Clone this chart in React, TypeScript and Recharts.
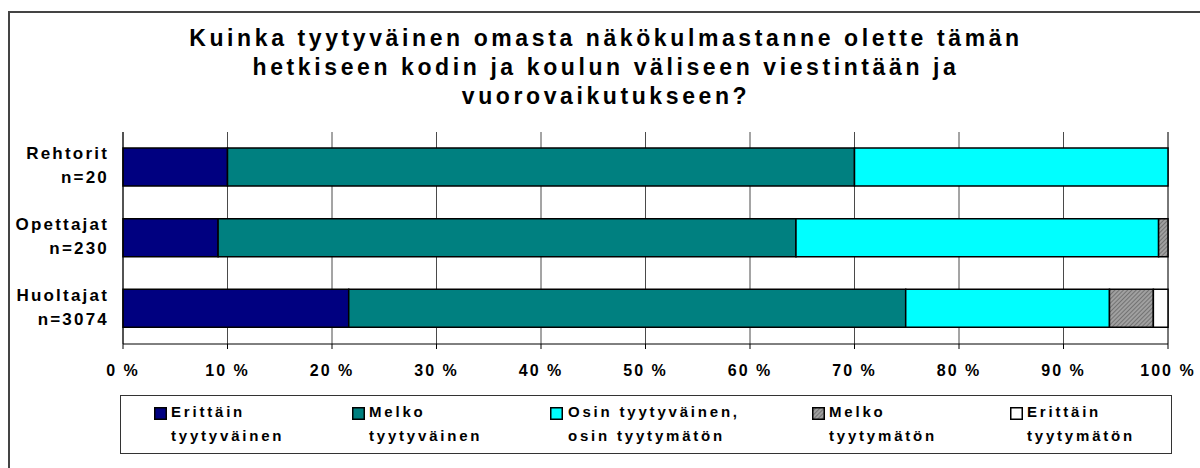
import React from "react"
import { BarChart, Bar, XAxis, YAxis, CartesianGrid } from "recharts"

// Kategoriat ja vastaajamäärät
const CATEGORIES = ["Rehtorit", "Opettajat", "Huoltajat"]
const GROUP_SIZES = ["n=20", "n=230", "n=3074"]

// Osuudet prosentteina (luettu kuvasta)
const ERITTAIN_TYYTYVAINEN = [10, 9.1, 21.6]
const MELKO_TYYTYVAINEN = [60, 55.3, 53.3]
const OSIN_OSIN = [30, 34.7, 19.5]
const MELKO_TYYTYMATON = [0, 0.9, 4.2]
const ERITTAIN_TYYTYMATON = [0, 0, 1.4]

const X_TICKS = [0, 10, 20, 30, 40, 50, 60, 70, 80, 90, 100]
const BAND_EDGES = [0, 1, 2, 3]

const TITLE_LINES = [
  "Kuinka tyytyväinen omasta näkökulmastanne olette tämän",
  "hetkiseen kodin ja koulun väliseen viestintään ja",
  "vuorovaikutukseen?",
]

const SERIES = [
  { key: "et", lines: ["Erittäin", "tyytyväinen"], fill: "#000080", values: ERITTAIN_TYYTYVAINEN },
  { key: "mt", lines: ["Melko", "tyytyväinen"], fill: "#008080", values: MELKO_TYYTYVAINEN },
  { key: "oo", lines: ["Osin tyytyväinen,", "osin tyytymätön"], fill: "#00FFFF", values: OSIN_OSIN },
  { key: "mm", lines: ["Melko", "tyytymätön"], fill: "url(#hatch)", values: MELKO_TYYTYMATON },
  { key: "em", lines: ["Erittäin", "tyytymätön"], fill: "#FFFFFF", values: ERITTAIN_TYYTYMATON },
]

// legendan kohtien vaakasijainnit (ruutu, teksti)
const LEGEND_POS = [
  { box: 33, text: 50 },
  { box: 231, text: 248 },
  { box: 429, text: 447 },
  { box: 691, text: 708 },
  { box: 889, text: 906 },
]

const data = CATEGORIES.map((name, i) => {
  const row: Record<string, any> = { name, n: GROUP_SIZES[i] }
  SERIES.forEach((s) => {
    row[s.key] = s.values[i]
  })
  return row
})

const FONT = "'Liberation Sans', Arial, sans-serif"

const CategoryTick = (props: any) => {
  const { x, y, payload } = props
  const i = CATEGORIES.indexOf(payload.value)
  return (
    <text
      x={x}
      y={y}
      textAnchor="end"
      fontSize={17}
      fontWeight="bold"
      fill="#000"
      style={{ letterSpacing: 2.2 }}
    >
      <tspan x={x} dy={-8}>{payload.value}</tspan>
      <tspan x={x} dy={24}>{GROUP_SIZES[i]}</tspan>
    </text>
  )
}

export default function App() {
  return (
    <div
      style={{
        position: "absolute",
        left: 0,
        top: 0,
        width: 1200,
        height: 468,
        overflow: "hidden",
        background: "#fff",
        fontFamily: FONT,
      }}
    >
      {/* kehys */}
      <div
        style={{
          position: "absolute",
          left: 8,
          top: 11,
          width: 1200,
          height: 470,
          borderLeft: "2px solid #444",
          borderTop: "2px solid #444",
        }}
      />

      <BarChart
        width={1200}
        height={468}
        data={data}
        layout="vertical"
        margin={{ top: 132, right: 32, bottom: 84, left: 0 }}
        barSize={38}
        style={{ position: "absolute", left: 0, top: 0 }}
      >
        <defs>
          <pattern id="hatch" patternUnits="userSpaceOnUse" width="3" height="3" patternTransform="rotate(45)">
            <rect width="3" height="3" fill="#a0a0a0" />
            <line x1="0" y1="0" x2="0" y2="3" stroke="#555" strokeWidth="1.2" />
          </pattern>
        </defs>
        <CartesianGrid horizontal={false} stroke="#4a4a4a" strokeWidth={1} />
        <YAxis
          yAxisId="edges"
          type="number"
          domain={[0, 3]}
          ticks={BAND_EDGES}
          width={0}
          tickSize={5}
          tickLine={{ stroke: "#000" }}
          axisLine={{ stroke: "#000" }}
          tick={() => <g />}
        />
        <YAxis
          type="category"
          dataKey="name"
          width={123}
          tickLine={false}
          axisLine={{ stroke: "#000" }}
          tickMargin={8}
          interval={0}
          tick={<CategoryTick />}
        />
        <XAxis
          type="number"
          domain={[0, 100]}
          ticks={X_TICKS}
          interval={0}
          height={40}
          tickSize={5}
          tickMargin={16}
          tickFormatter={(v: number) => `${v} %`}
          axisLine={{ stroke: "#000" }}
          tickLine={{ stroke: "#000" }}
          tick={{ fontSize: 16, fontWeight: "bold", fill: "#000", style: { letterSpacing: 2 } } as any}
        />
        {SERIES.map((s) => (
          <Bar
            key={s.key}
            dataKey={s.key}
            stackId="a"
            fill={s.fill}
            stroke="#000"
            strokeWidth={1.5}
            isAnimationActive={false}
          />
        ))}
      </BarChart>

      {/* otsikko */}
      <div
        style={{
          position: "absolute",
          left: 0,
          top: 24,
          width: 1212,
          textAlign: "center",
          fontSize: 23,
          fontWeight: "bold",
          letterSpacing: 3.6,
          lineHeight: "29px",
          color: "#000",
        }}
      >
        {TITLE_LINES.map((l) => (
          <div key={l}>{l}</div>
        ))}
      </div>

      {/* selite */}
      <div
        style={{
          position: "absolute",
          left: 120,
          top: 395,
          width: 1052,
          height: 59,
          boxSizing: "border-box",
          border: "1px solid #333",
          background: "#fff",
        }}
      >
        {SERIES.map((s, i) => (
          <React.Fragment key={s.key}>
            <svg
              width={13}
              height={13}
              style={{ position: "absolute", left: LEGEND_POS[i].box, top: 11 }}
            >
              <rect x={0.75} y={0.75} width={11.5} height={11.5} fill={s.fill} stroke="#000" strokeWidth={1.5} />
            </svg>
            <div
              style={{
                position: "absolute",
                left: LEGEND_POS[i].text,
                top: 4,
                fontSize: 15,
                fontWeight: "bold",
                letterSpacing: 2.8,
                lineHeight: "24px",
                whiteSpace: "nowrap",
                color: "#000",
              }}
            >
              <div>{s.lines[0]}</div>
              <div>{s.lines[1]}</div>
            </div>
          </React.Fragment>
        ))}
      </div>
    </div>
  )
}
